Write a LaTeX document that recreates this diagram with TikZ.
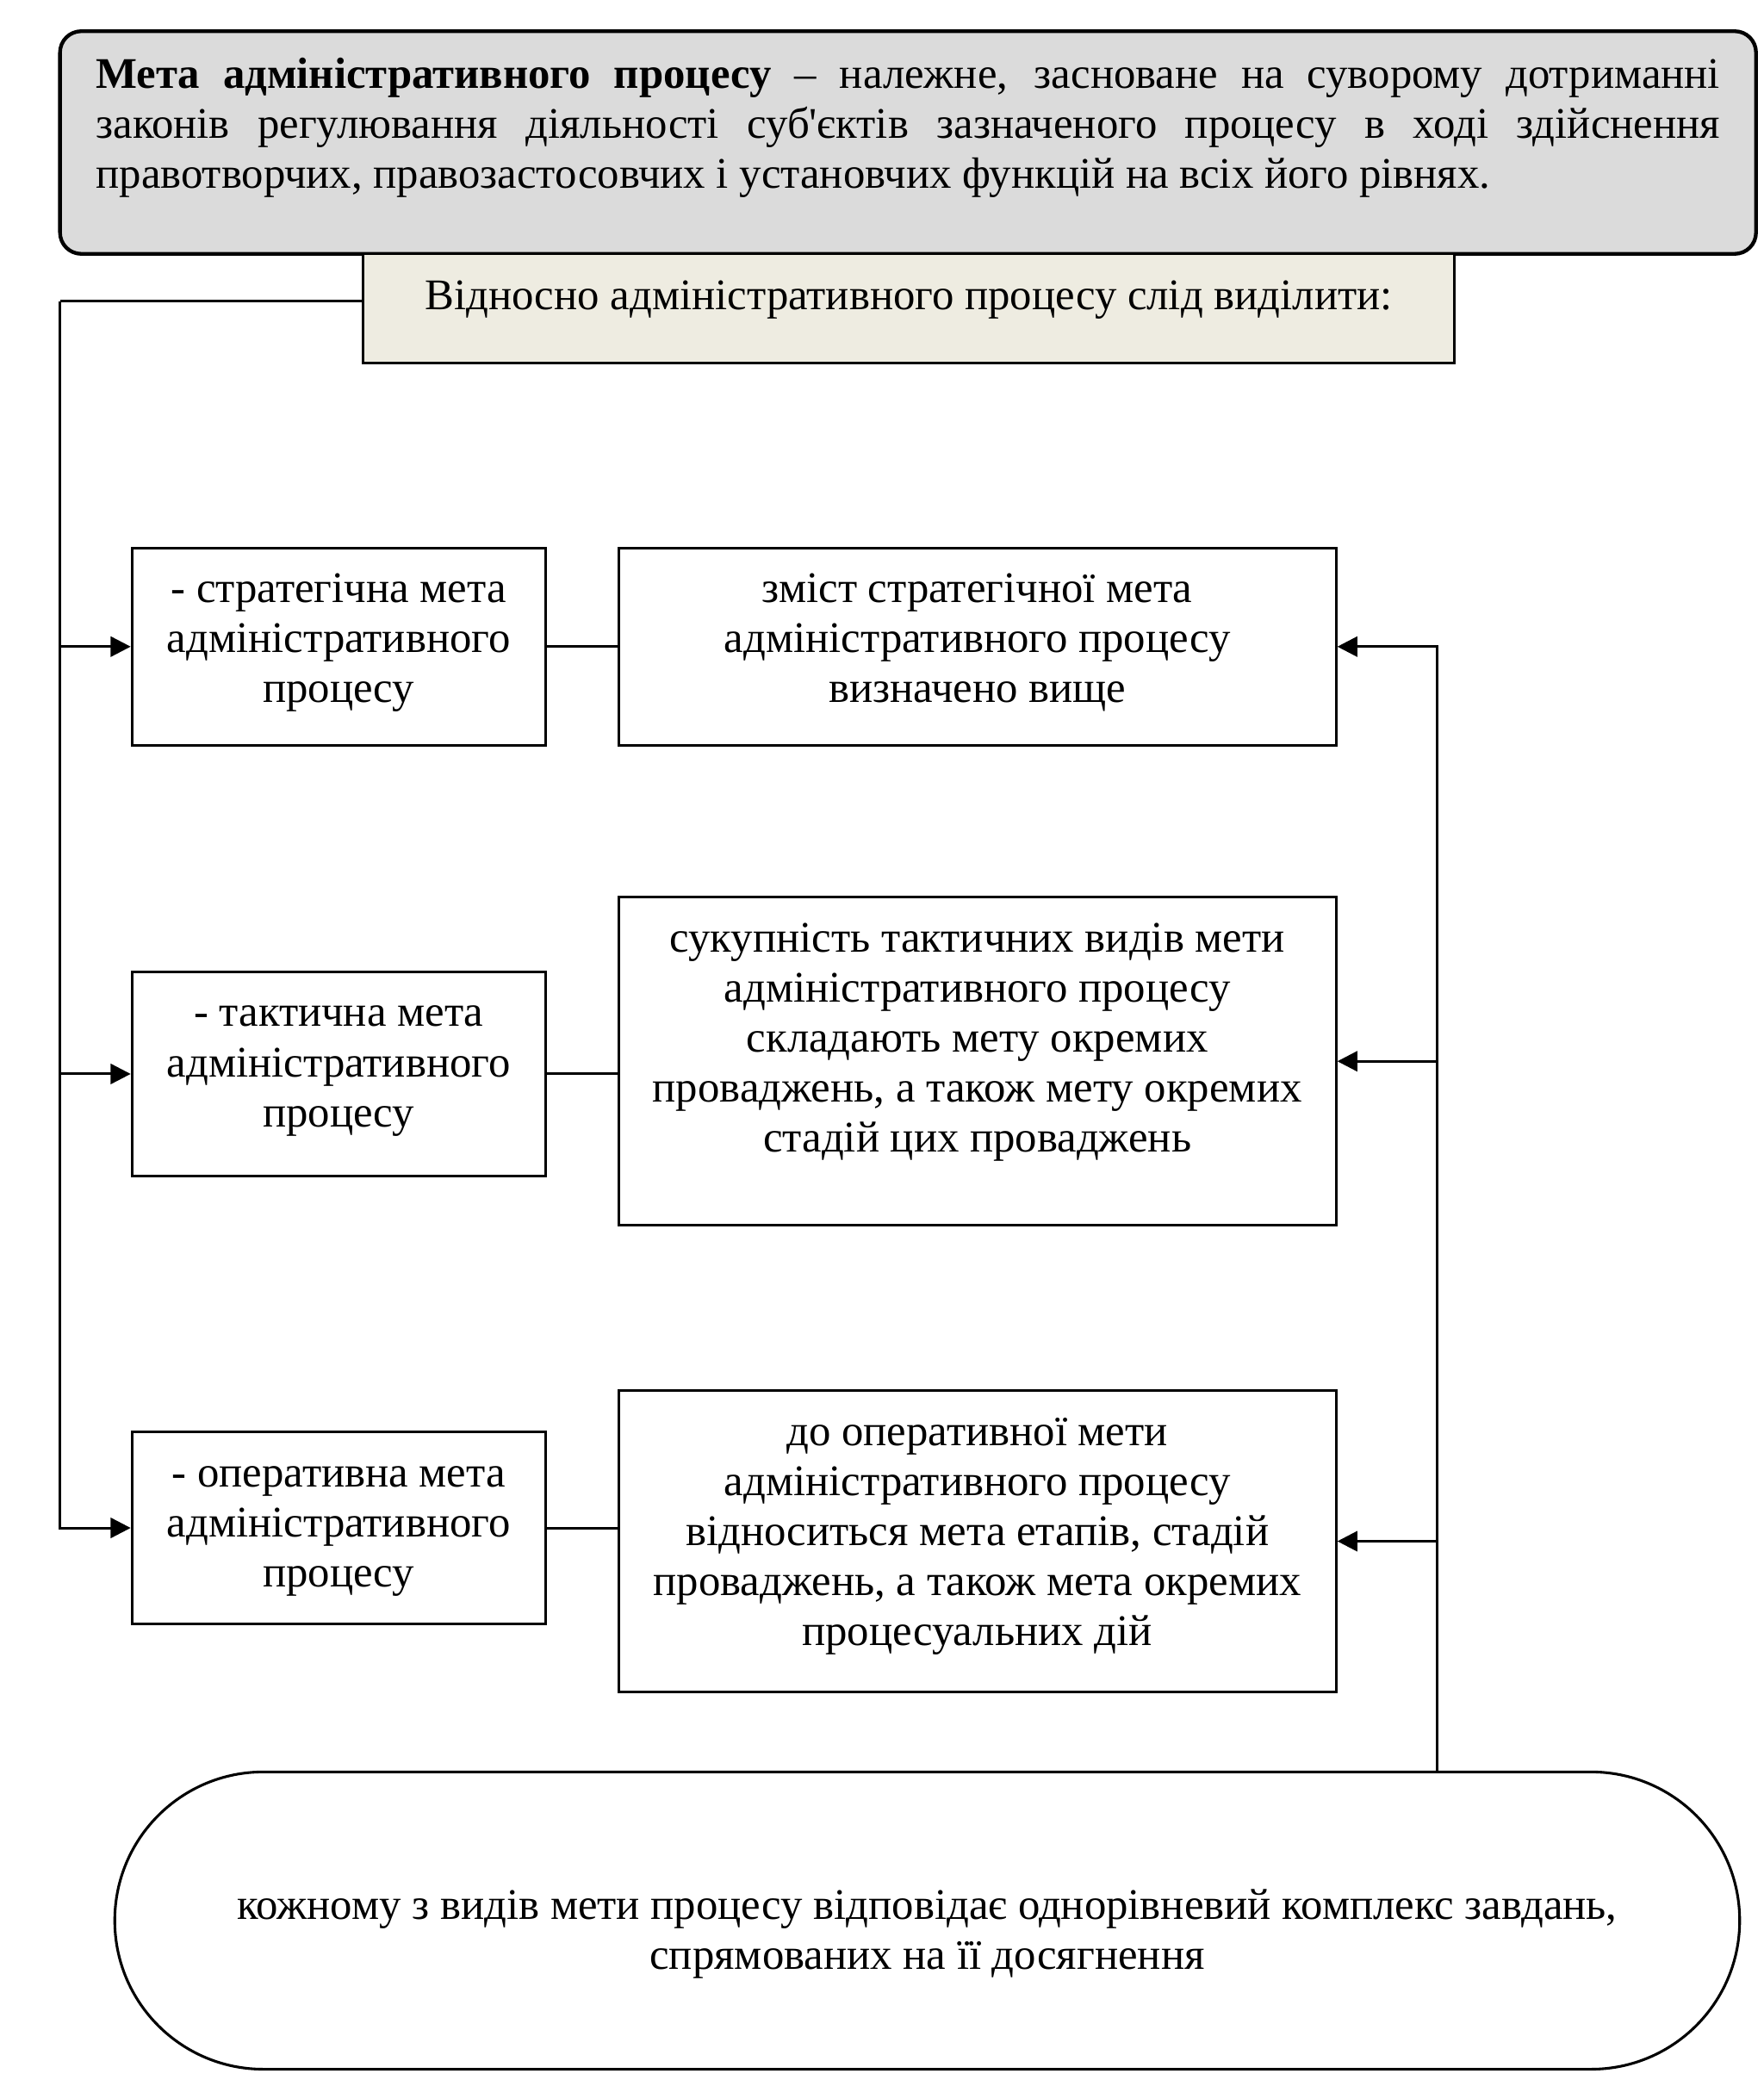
\documentclass[tikz,border=0pt]{standalone}
\usepackage{fontspec}
\setmainfont{Liberation Serif}[Ligatures=TeXOff]
\usetikzlibrary{arrows.meta,shapes.misc}
\definecolor{metagrau}{HTML}{DBDBDB}
\definecolor{beige}{HTML}{EEECE1}

\begin{document}
\begin{tikzpicture}[x=0.5pt,y=0.5pt,
    font=\fontsize{16.4}{18.75}\selectfont,
    linie/.style={line width=1pt},
    pfeil/.style={line width=1pt,-{Triangle[length=7.5pt,width=7.5pt]}},
    kasten/.style={draw,line width=1pt,inner sep=0pt,anchor=north,align=flush center,text height=20.5pt}]
    \useasboundingbox (0,0) rectangle (1322.4,-1569.1);
    \node[kasten,fill=metagrau,rounded corners=8pt,line width=1.4pt,text width=609pt,inner xsep=13.5pt,align=justify,text height=21.5pt,text depth=62pt] (meta) at (681,-22) {\textbf{Мета адміністративного процесу} – належне, засноване на суворому дотриманні\linebreak законів регулювання діяльності суб'єктів зазначеного процесу в ході здійснення\linebreak правотворчих, правозастосовчих і установчих функцій на всіх його рівнях.};
    \node[kasten,fill=beige,text width=409.5pt,text height=21pt,text depth=20pt] (vid) at (681.5,-189) {Відносно адміністративного процесу слід виділити:};
    \node[kasten,text width=155pt,text depth=53.5pt] (strat) at (254,-410) {- стратегічна мета\\адміністративного\\процесу};
    \node[kasten,text width=155pt,text depth=56pt] (takt) at (254,-728) {- тактична мета\\адміністративного\\процесу};
    \node[kasten,text width=155pt,text depth=51.5pt] (oper) at (254,-1073) {- оперативна мета\\адміністративного\\процесу};
    \node[kasten,text width=269pt,text depth=53.5pt] (zmist) at (733,-410) {зміст стратегічної мета\\адміністративного процесу\\визначено вище};
    \node[kasten,text width=269pt,text depth=102.5pt] (sukup) at (733,-672) {сукупність тактичних видів мети\\адміністративного процесу\\складають мету окремих\\проваджень, а також мету окремих\\стадій цих проваджень};
    \node[kasten,text width=269pt,text depth=92.5pt] (dooper) at (733,-1042) {до оперативної мети\\адміністративного процесу\\відноситься мета етапів, стадій\\проваджень, а також мета окремих\\процесуальних дій};
    \node[draw,line width=1pt,rounded rectangle,minimum width=616pt,minimum height=111.5pt] (kozh) at (695.4,-1440.5) {};
    \node[align=flush center] (kozhtext) at ([yshift=-5pt]kozh.center) {кожному з видів мети процесу відповідає однорівневий комплекс завдань,\\спрямованих на її досягнення};
    \coordinate (lbus) at (45,-226);
    \draw[linie] (vid.west |- lbus) -- (lbus);
    \draw[pfeil] (lbus) |- (oper.west);
    \draw[pfeil] (lbus |- strat.west) -- (strat.west);
    \draw[pfeil] (lbus |- takt.west) -- (takt.west);
    \draw[linie] (strat.east) -- (zmist.west);
    \draw[linie] (takt.east) -- (takt.east -| sukup.west);
    \draw[linie] (oper.east) -- (oper.east -| dooper.west);
    \coordinate (rbus) at (1078,-1329);
    \draw[pfeil] (rbus) |- (zmist.east);
    \draw[pfeil] (rbus |- sukup.east) -- (sukup.east);
    \draw[pfeil] (rbus |- dooper.east) -- (dooper.east);
\end{tikzpicture}
\end{document}
